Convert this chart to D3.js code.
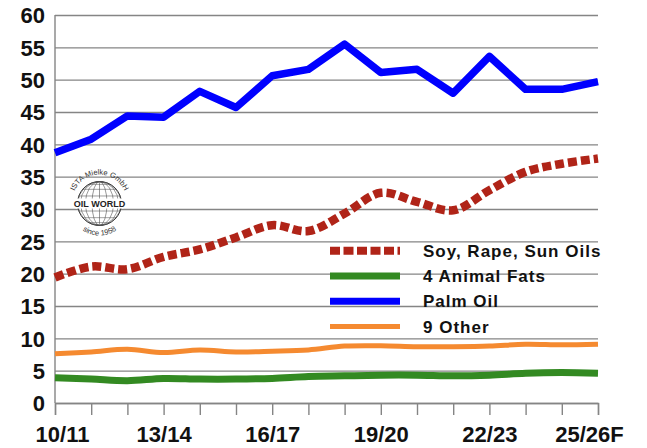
<!DOCTYPE html>
<html><head><meta charset="utf-8">
<script src="https://cdn.jsdelivr.net/npm/d3@7"></script>
<style>
html,body{margin:0;padding:0;background:#fff;}
svg{display:block;font-family:"Liberation Sans",Arial,sans-serif;}
</style></head>
<body>
<svg id="chart" width="647" height="448"></svg>
<script>
const categories = ["10/11","11/12","12/13","13/14","14/15","15/16","16/17","17/18","18/19","19/20","20/21","21/22","22/23","23/24","24/25","25/26F"];
const labelCategories = ["10/11","13/14","16/17","19/20","22/23","25/26F"];
const yTicks = [0,5,10,15,20,25,30,35,40,45,50,55,60];
const seriesNames = ["Soy, Rape, Sun Oils","4 Animal Fats","Palm Oil","9 Other"];
const soyRapeSun = [19.4,21.1,20.7,22.6,23.75,25.6,27.5,26.6,29.3,32.5,31.1,29.8,32.9,35.75,37.0,37.8];
const animalFats = [3.9,3.7,3.45,3.8,3.7,3.7,3.8,4.1,4.2,4.3,4.3,4.2,4.3,4.6,4.7,4.6];
const palmOil = [38.7,40.8,44.4,44.2,48.2,45.7,50.6,51.6,55.5,51.1,51.6,47.9,53.6,48.5,48.5,49.7];
const otherOils = [7.6,7.9,8.3,7.8,8.2,7.9,8.0,8.2,8.8,8.85,8.7,8.7,8.8,9.1,9.0,9.1];

const svg = d3.select("#chart");
const L = 55, R = 598, T = 15, B = 403;
const x = d3.scalePoint().domain(categories).range([L, R]).padding(0);
const y = d3.scaleLinear().domain([0, 60]).range([B, T]);

// gridlines
const grid = svg.append("g").attr("transform", `translate(${L},0)`)
  .call(d3.axisLeft(y).tickValues(yTicks).tickSize(-(R - L)).tickFormat(""));
grid.select(".domain").remove();
grid.selectAll("line").attr("stroke", "#858585").attr("stroke-width", 1.4);

// left axis line
svg.append("line").attr("x1", L).attr("x2", L).attr("y1", T).attr("y2", B)
  .attr("stroke", "#858585").attr("stroke-width", 1.4);

// y labels
const yl = svg.append("g").attr("transform", `translate(${L},0)`)
  .call(d3.axisLeft(y).tickValues(yTicks).tickSize(0).tickPadding(10).tickFormat(d3.format("d")));
yl.select(".domain").remove();
yl.selectAll("text").attr("font-size", 22).attr("font-weight", "bold")
  .attr("fill", "#111").attr("font-family", "'Liberation Sans',Arial,sans-serif").attr("dy", "0.36em");

// x axis
const xa = svg.append("g").attr("transform", `translate(0,${B})`)
  .call(d3.axisBottom(x).tickSize(12).tickPadding(11)
    .tickFormat(d => labelCategories.includes(d) ? d : ""));
xa.select(".domain").attr("stroke", "#858585").attr("stroke-width", 1.4);
xa.selectAll("line").attr("stroke", "#858585").attr("stroke-width", 1.4);
xa.selectAll("text").attr("font-size", 22).attr("font-weight", "bold")
  .attr("fill", "#111").attr("font-family", "'Liberation Sans',Arial,sans-serif")
  .attr("dx", d => d === categories[0] ? 7 : (d === categories[categories.length - 1] ? -9 : 0));

// logo
const logo = svg.append("g");
const cx = 99.5, cy = 203.5, r = 22;
const proj = d3.geoOrthographic().scale(r).translate([cx, cy]).rotate([0, 0, 0]).clipAngle(90);
const gpath = d3.geoPath(proj);
logo.append("circle").attr("cx", cx).attr("cy", cy).attr("r", r).attr("fill", "#fff").attr("stroke", "#333").attr("stroke-width", 1);
logo.append("path").datum(d3.geoGraticule().step([20, 20])()).attr("d", gpath)
  .attr("fill", "none").attr("stroke", "#555").attr("stroke-width", 0.6);
logo.append("rect").attr("x", cx - 24).attr("y", cy - 5).attr("width", 48).attr("height", 10).attr("fill", "#fff");
logo.append("text").attr("x", cx).attr("y", cy + 3.5).attr("text-anchor", "middle")
  .attr("font-size", 9).attr("font-weight", "bold").attr("fill", "#222").text("OIL WORLD");
const defs = svg.append("defs");
defs.append("path").attr("id", "arcTop")
  .attr("d", `M ${cx - 27},${cy - 2} A 27 27 0 0 1 ${cx + 27},${cy - 2}`);
defs.append("path").attr("id", "arcBot")
  .attr("d", `M ${cx - 30},${cy + 2} A 30 30 0 0 0 ${cx + 30},${cy + 2}`);
logo.append("text").attr("font-size", 7.5).attr("fill", "#333")
  .append("textPath").attr("href", "#arcTop").attr("startOffset", "50%").attr("text-anchor", "middle")
  .text("ISTA Mielke GmbH");
logo.append("text").attr("font-size", 7.5).attr("fill", "#333")
  .append("textPath").attr("href", "#arcBot").attr("startOffset", "50%").attr("text-anchor", "middle")
  .text("since 1958");

// series
const series = [
  {name: seriesNames[0], values: soyRapeSun, color: "#b02418", width: 8.5, dash: "9,4", curve: d3.curveCatmullRom.alpha(0.5)},
  {name: seriesNames[1], values: animalFats, color: "#338a22", width: 7, dash: null, curve: d3.curveCatmullRom.alpha(0.5)},
  {name: seriesNames[2], values: palmOil, color: "#0000ff", width: 7.5, dash: null, curve: d3.curveLinear},
  {name: seriesNames[3], values: otherOils, color: "#f58a30", width: 5, dash: null, curve: d3.curveCatmullRom.alpha(0.5)}
];
series.forEach(s => {
  const line = d3.line().x((d, i) => x(categories[i])).y(d => y(d)).curve(s.curve);
  svg.append("path").datum(s.values).attr("d", line)
    .attr("fill", "none").attr("stroke", s.color).attr("stroke-width", s.width)
    .attr("stroke-dasharray", s.dash).attr("stroke-linejoin", s.dash ? "miter" : "round")
    .attr("stroke-linecap", "butt");
});

// legend
const lg = svg.append("g");
series.forEach((s, i) => {
  const yy = 250.7 + i * 25.3;
  lg.append("line").attr("x1", 330).attr("x2", 400).attr("y1", yy).attr("y2", yy)
    .attr("stroke", s.color).attr("stroke-width", s.dash ? 8 : (i === 3 ? 5 : 7))
    .attr("stroke-dasharray", s.dash ? "10,3.5" : null);
  lg.append("text").attr("x", 423).attr("y", yy + 6).attr("font-size", 17).attr("font-weight", "bold")
    .attr("letter-spacing", 1).attr("fill", "#111").text(s.name);
});
</script>
</body></html>
